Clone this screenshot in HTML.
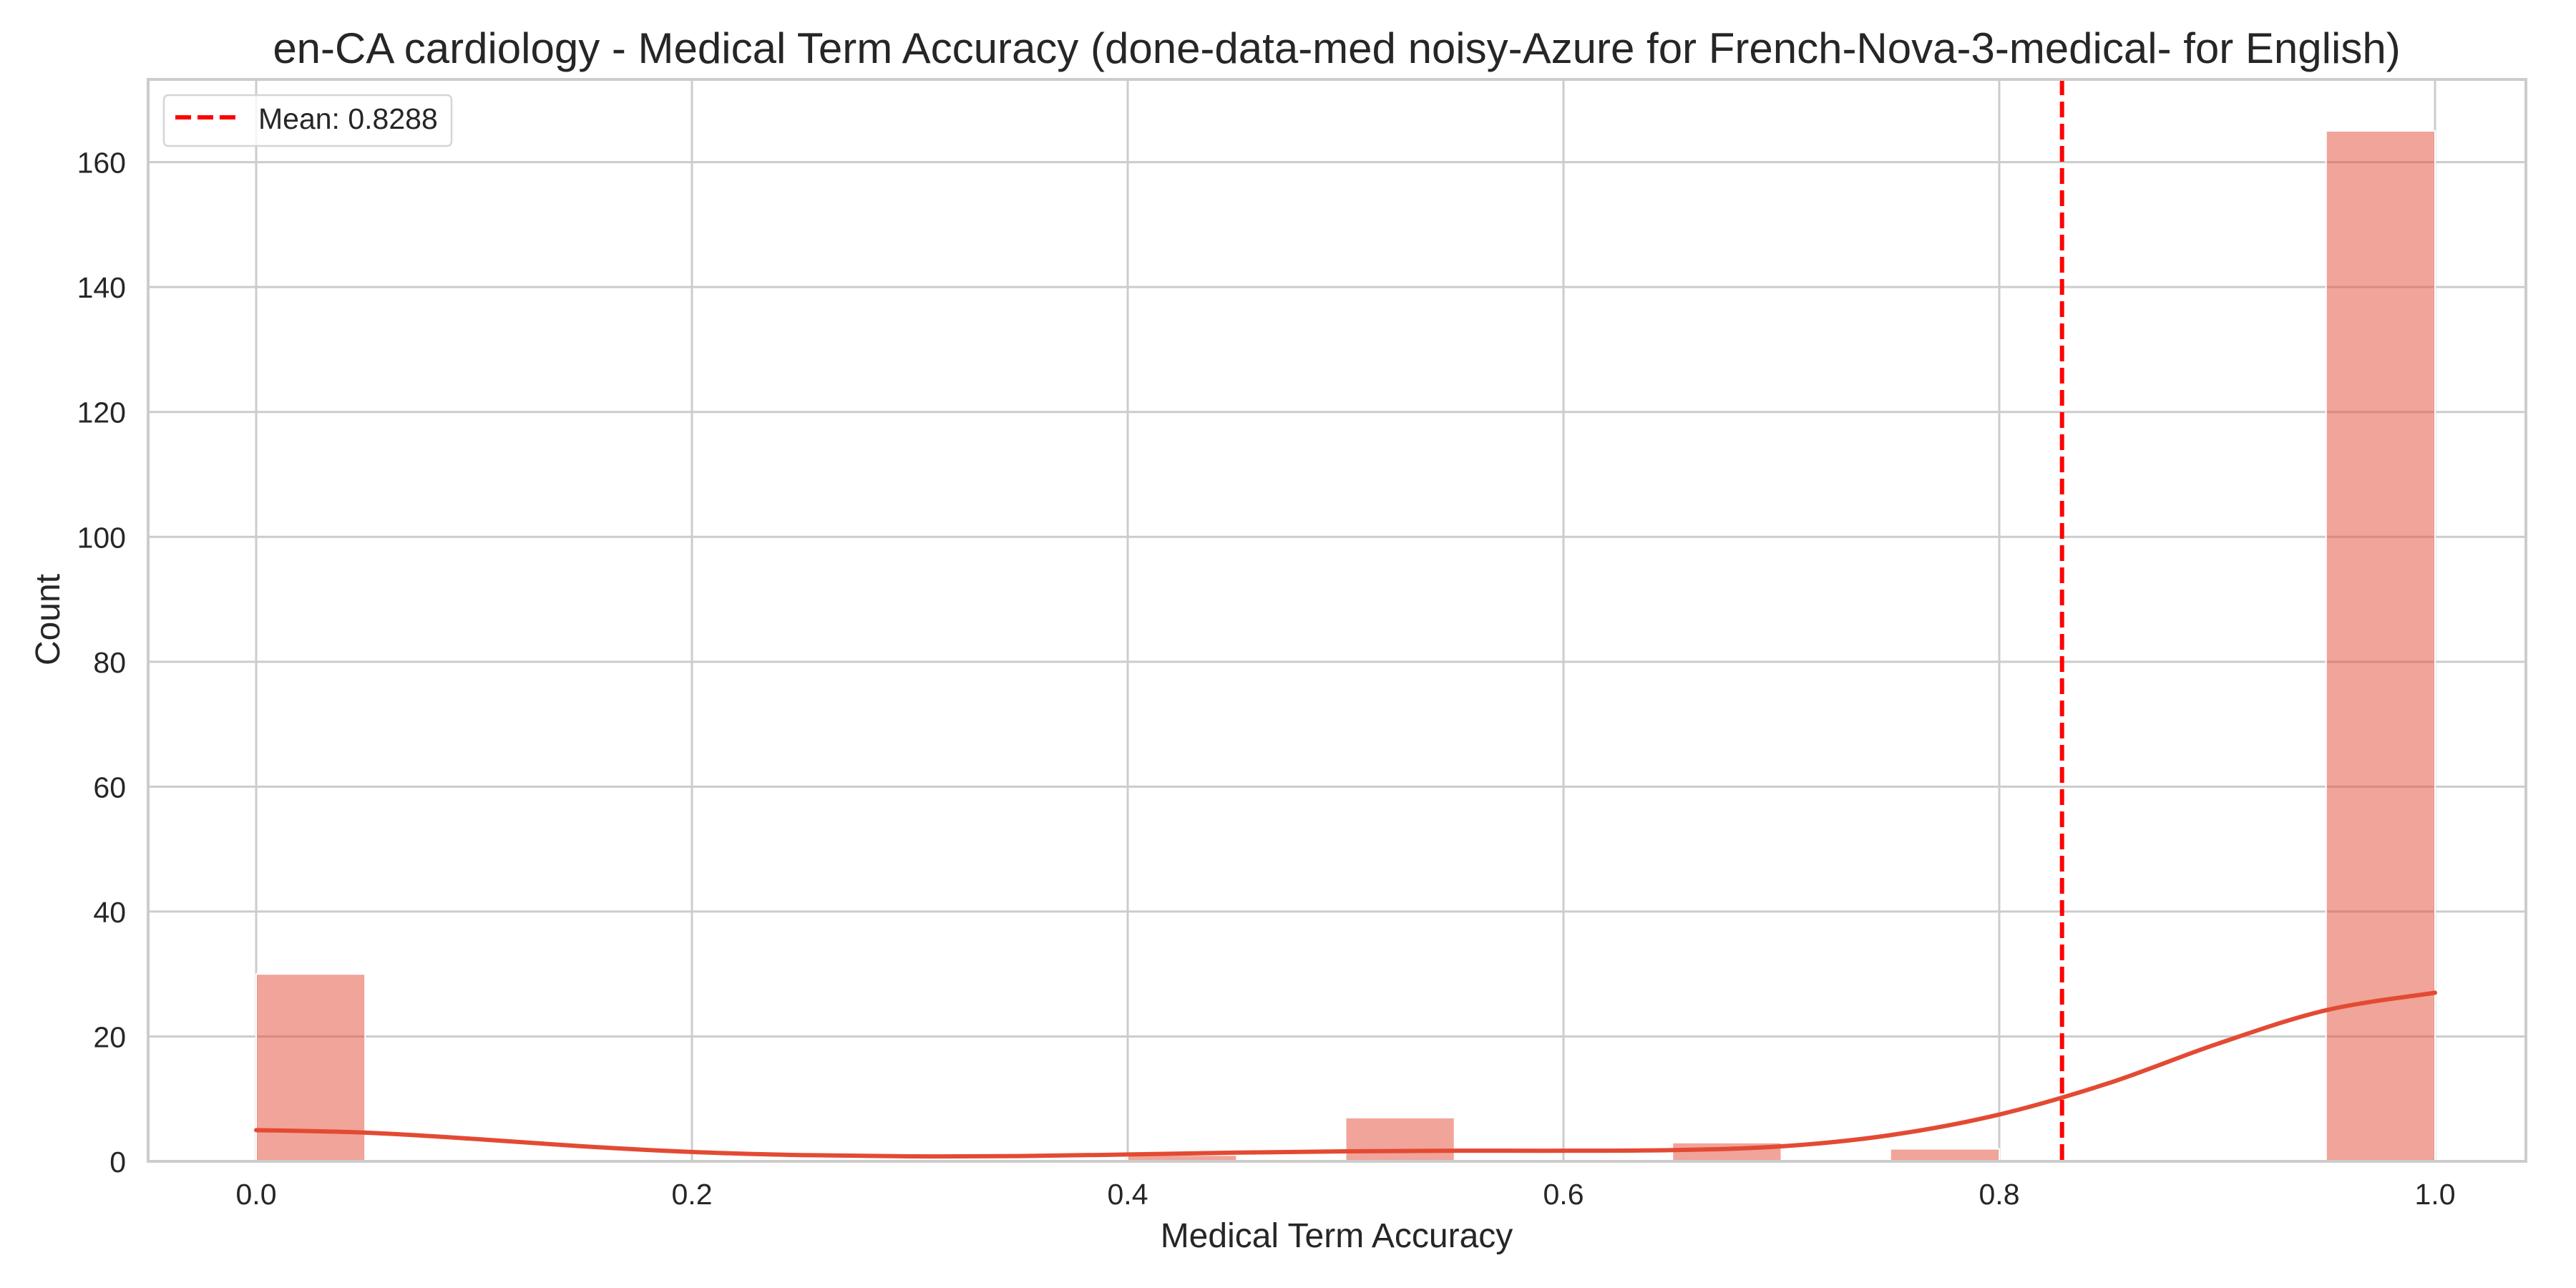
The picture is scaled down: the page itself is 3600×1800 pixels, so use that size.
<!DOCTYPE html>
<html><head><meta charset="utf-8">
<style>
html,body{margin:0;padding:0;background:#fff;}
svg{display:block;}
text{font-family:"Liberation Sans",sans-serif;fill:#262626;}
</style></head>
<body>
<svg id="chart" width="3600" height="1800" viewBox="0 0 3600 1800" xmlns="http://www.w3.org/2000/svg">
<rect x="0" y="0" width="3600" height="1800" fill="#fff"/>
<g id="grid"></g>
<g id="bars"></g>
<g id="kde"></g>
<g id="mean"></g>
<g id="spines"></g>
<g id="ticks"></g>
<text x="1868" y="88" font-size="60" text-anchor="middle">en-CA cardiology - Medical Term Accuracy (done-data-med noisy-Azure for French-Nova-3-medical- for English)</text>
<text x="1868" y="1743" font-size="48" text-anchor="middle">Medical Term Accuracy</text>
<text x="0" y="0" font-size="48" text-anchor="middle" transform="translate(83,866) rotate(-90)">Count</text>
<g>
<rect x="229" y="133" width="402" height="71" rx="6" fill="#fff" fill-opacity="0.8" stroke="#d5d5d5" stroke-width="2.5"/>
<line x1="245" y1="164" x2="329" y2="164" stroke="#ff0000" stroke-width="6" stroke-dasharray="22,9"/>
<text x="361" y="180" font-size="41">Mean: 0.8288</text>
</g>
</svg>
<script>
const binEdgesStart = [0,0.05,0.1,0.15,0.2,0.25,0.3,0.35,0.4,0.45,0.5,0.55,0.6,0.65,0.7,0.75,0.8,0.85,0.9,0.95];
const binCounts = [30,0,0,0,0,0,0,0,1,0,7,0,0,3,0,2,0,0,0,165];
const binWidth = 0.05;
const kdeX = [0,0.05,0.1,0.15,0.2,0.25,0.3,0.35,0.4,0.45,0.5,0.55,0.6,0.65,0.7,0.75,0.8,0.85,0.9,0.95,1.0];
const kdeY = [5,4.6,3.6,2.4,1.5,1.0,0.8,0.85,1.1,1.4,1.6,1.7,1.7,1.8,2.4,4.2,7.5,12.5,18.8,24.2,27];
const meanValue = 0.8288;
const xTicks = [0,0.2,0.4,0.6,0.8,1.0];
const xTickLabels = ["0.0","0.2","0.4","0.6","0.8","1.0"];
const yTicks = [0,20,40,60,80,100,120,140,160];

const L=207,R=3530,T=111,B=1623;
const X0=358,X1=3403;
const ymin=0,ymax=173.25;
const X=v=>X0+v*(X1-X0);
const Y=v=>B-(v-ymin)/(ymax-ymin)*(B-T);
const NS="http://www.w3.org/2000/svg";
function mk(tag,attrs,parent){const e=document.createElementNS(NS,tag);for(const k in attrs)e.setAttribute(k,attrs[k]);document.getElementById(parent).appendChild(e);return e;}

xTicks.forEach((t,i)=>{
  const g=mk('line',{x1:X(t),x2:X(t),y1:T,y2:B,stroke:'#cccccc','stroke-width':3},'grid');
  
  
  const tx=mk('text',{x:X(t),y:1683,'font-size':41,'text-anchor':'middle'},'ticks');
  tx.textContent=xTickLabels[i];
  
  
});
yTicks.forEach(t=>{
  const g=mk('line',{x1:L,x2:R,y1:Y(t),y2:Y(t),stroke:'#cccccc','stroke-width':3},'grid');
  
  
  const tx=mk('text',{x:176,y:Y(t)+15,'font-size':41,'text-anchor':'end'},'ticks');
  tx.textContent=String(t);
  
  
});
binCounts.forEach((c,i)=>{
  if(c<=0)return;
  const x0=X(binEdgesStart[i]),x1=X(binEdgesStart[i]+binWidth);
  const r=mk('rect',{x:x0,y:Y(c),width:x1-x0,height:Y(0)-Y(c),fill:'#e34a33','fill-opacity':0.5,stroke:'#ffffff','stroke-width':2},'bars');
  
  
});
let pts=kdeX.map((x,i)=>[X(x),Y(kdeY[i])]);
let d='M'+pts[0][0]+','+pts[0][1];
for(let i=0;i<pts.length-1;i++){
  const p0=pts[Math.max(0,i-1)],p1=pts[i],p2=pts[i+1],p3=pts[Math.min(pts.length-1,i+2)];
  const c1=[p1[0]+(p2[0]-p0[0])/6,p1[1]+(p2[1]-p0[1])/6];
  const c2=[p2[0]-(p3[0]-p1[0])/6,p2[1]-(p3[1]-p1[1])/6];
  d+=` C${c1[0]},${c1[1]} ${c2[0]},${c2[1]} ${p2[0]},${p2[1]}`;
}
const kp=mk('path',{d:d,fill:'none',stroke:'#e34a33','stroke-width':6,'stroke-linecap':'round'},'kde');


const ml=mk('line',{x1:X(meanValue),x2:X(meanValue),y1:T,y2:B,stroke:'#ff0000','stroke-width':6,'stroke-dasharray':'22,9'},'mean');


const sp=mk('rect',{x:L,y:T,width:R-L,height:B-T,fill:'none',stroke:'#cccccc','stroke-width':4},'spines');


</script>
</body></html>
